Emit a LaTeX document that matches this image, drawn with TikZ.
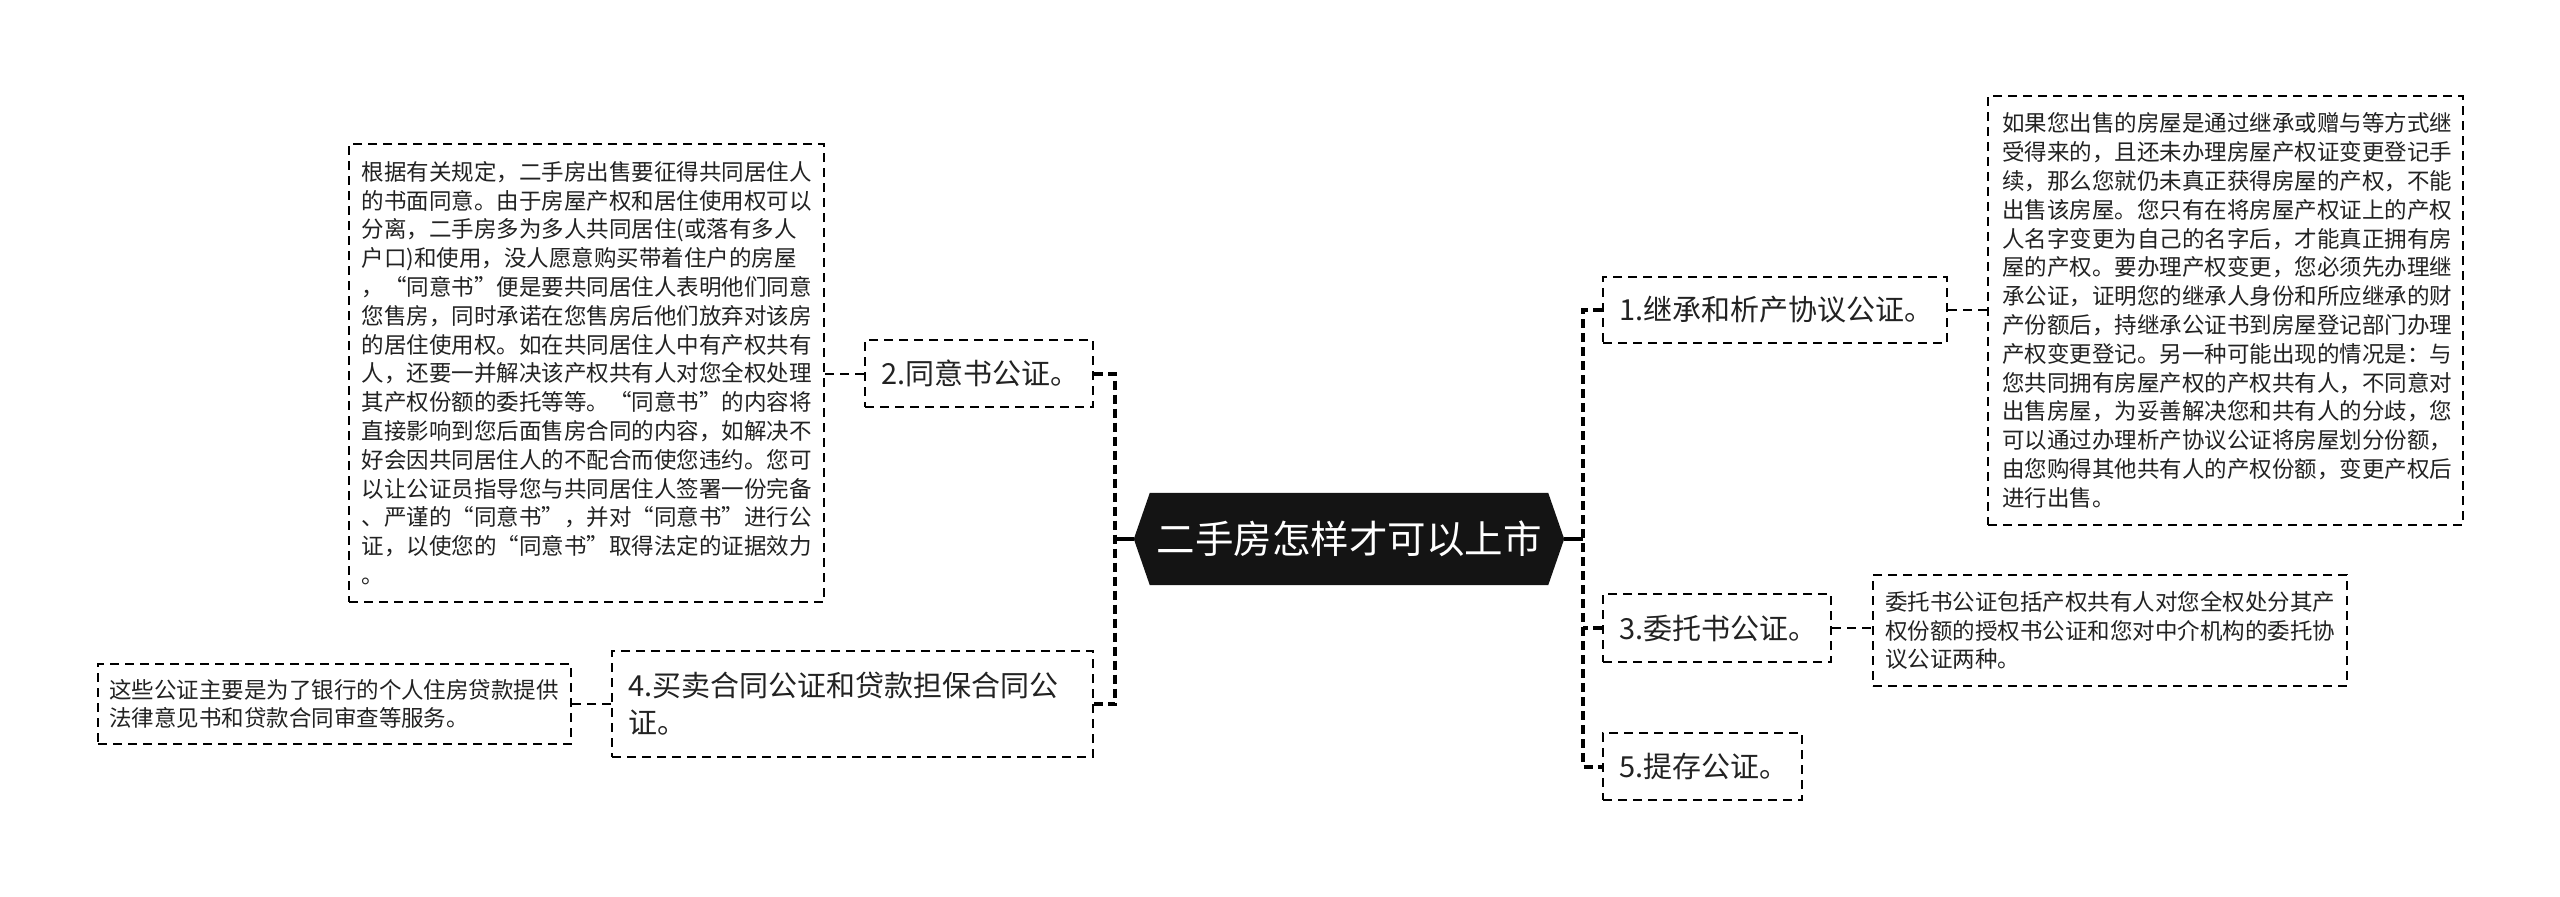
\documentclass[tikz,border=0pt]{standalone}
\usepackage{fontspec}
\setmainfont{Noto Sans CJK SC}
\usetikzlibrary{calc,backgrounds}
\definecolor{txt}{RGB}{34,34,34}
\definecolor{hexfill}{RGB}{20,20,20}
\tikzset{
  box/.style={draw=black, line width=2pt, dash pattern=on 9pt off 6pt, rectangle, align=left, text=txt, inner ysep=0pt},
  desc/.style={box, font=\fontsize{22.5}{28.8}\selectfont},
  lab/.style={box, font=\fontsize{29}{37}\selectfont},
  trunk/.style={line width=4pt, dash pattern=on 9pt off 5pt},
  thinlink/.style={line width=2pt, dash pattern=on 9pt off 6pt},
  stub/.style={line width=4pt},
  hexnode/.style={rectangle, inner sep=0pt, minimum width=398pt, minimum height=92pt, text=white, font=\fontsize{38.5}{46}\selectfont},
}
\begin{document}
\begin{tikzpicture}[x=1pt,y=-1pt]
\useasboundingbox (0,0) rectangle (2560,897);

% root
\node[hexnode] (root) at (1349,539) {二手房怎样才可以上市};
\coordinate (rootL) at ($(root.west)+(-16,0)$);
\coordinate (rootR) at ($(root.east)+(16,0)$);
\begin{scope}[on background layer]
\fill[white] (0,0) rectangle (2560,897);
\fill[hexfill] (root.north west) -- (root.north east) -- (rootR) -- (root.south east) -- (root.south west) -- (rootL) -- cycle;
\end{scope}

% left side
\node[desc, text width=450pt, inner xsep=12.5pt, minimum height=458pt] (leftbig) at (586.5,373) {根据有关规定，二手房出售要征得共同居住人\\的书面同意。由于房屋产权和居住使用权可以\\分离，二手房多为多人共同居住(或落有多人\\户口)和使用，没人愿意购买带着住户的房屋\\，“同意书”便是要共同居住人表明他们同意\\您售房，同时承诺在您售房后他们放弃对该房\\的居住使用权。如在共同居住人中有产权共有\\人，还要一并解决该产权共有人对您全权处理\\其产权份额的委托等等。“同意书”的内容将\\直接影响到您后面售房合同的内容，如解决不\\好会因共同居住人的不配合而使您违约。您可\\以让公证员指导您与共同居住人签署一份完备\\、严谨的“同意书”，并对“同意书”进行公\\证，以使您的“同意书”取得法定的证据效力\\。};
\node[lab, text width=196pt, inner xsep=16pt, minimum height=67pt] (b2) at (979,373.5) {2.同意书公证。};
\node[lab, text width=449pt, inner xsep=16pt, minimum height=106pt] (b4) at (852.5,704) {4.买卖合同公证和贷款担保合同公\\证。};
\node[desc, text width=451pt, inner xsep=11pt, minimum height=80pt] (small) at (334.5,704) {这些公证主要是为了银行的个人住房贷款提供\\法律意见书和贷款合同审查等服务。};

% right side
\node[lab, text width=312pt, inner xsep=16pt, minimum height=66pt] (b1) at (1775,310) {1.继承和析产协议公证。};
\node[desc, text width=447pt, inner xsep=14pt, minimum height=429pt] (rightbig) at (2225.5,310.5) {如果您出售的房屋是通过继承或赠与等方式继\\受得来的，且还未办理房屋产权证变更登记手\\续，那么您就仍未真正获得房屋的产权，不能\\出售该房屋。您只有在将房屋产权证上的产权\\人名字变更为自己的名字后，才能真正拥有房\\屋的产权。要办理产权变更，您必须先办理继\\承公证，证明您的继承人身份和所应继承的财\\产份额后，持继承公证书到房屋登记部门办理\\产权变更登记。另一种可能出现的情况是：与\\您共同拥有房屋产权的产权共有人，不同意对\\出售房屋，为妥善解决您和共有人的分歧，您\\可以通过办理析产协议公证将房屋划分份额，\\由您购得其他共有人的产权份额，变更产权后\\进行出售。};
\node[lab, text width=196pt, inner xsep=16pt, minimum height=68pt] (b3) at (1717,628) {3.委托书公证。};
\node[desc, text width=450pt, inner xsep=12pt, minimum height=111pt] (b3d) at (2110,630.5) {委托书公证包括产权共有人对您全权处分其产\\权份额的授权书公证和您对中介机构的委托协\\议公证两种。};
\node[lab, text width=167pt, inner xsep=16pt, minimum height=67pt] (b5) at (1702.5,766.5) {5.提存公证。};

% junctions
\coordinate (lj) at (1115,539);
\coordinate (rj) at (1583,539);

% connectors
\draw[stub] (rootL) -- (lj);
\draw[stub] (rootR) -- (rj);
\draw[trunk] (b2.east) -| (lj) |- (b4.east);
\draw[trunk] (b1.west) -| (rj) |- (b5.west);
\draw[trunk] (b3.west) -- (b3.west -| rj);

\draw[thinlink] (b2.west) -- (b2.west -| leftbig.east);
\draw[thinlink] (b4.west) -- (b4.west -| small.east);
\draw[thinlink] (b1.east) -- (b1.east -| rightbig.west);
\draw[thinlink] (b3.east) -- (b3.east -| b3d.west);
\end{tikzpicture}
\end{document}
